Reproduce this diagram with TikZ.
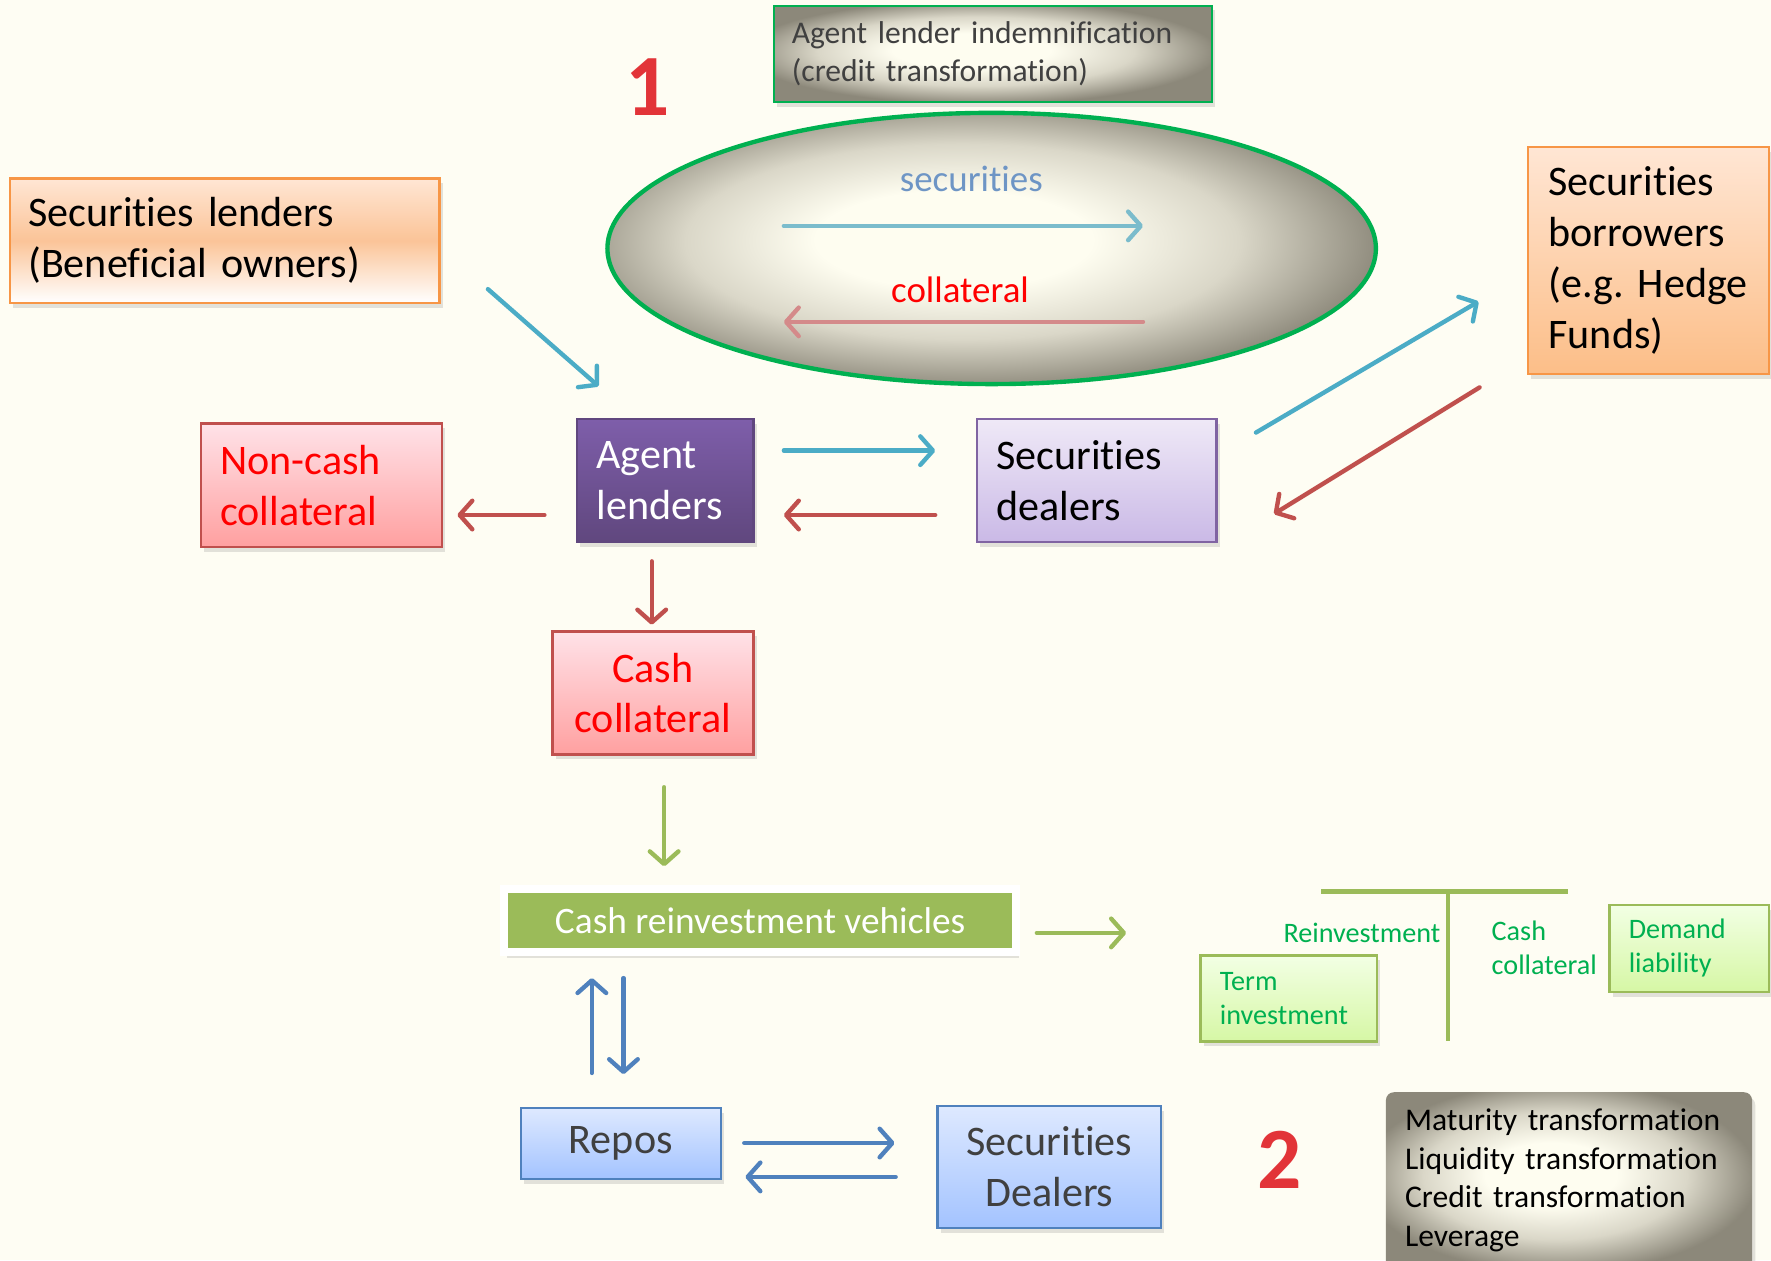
\documentclass[tikz,border=0pt]{standalone}
\usepackage{fontspec}
\setmainfont{Carlito}[Ligatures=NoCommon]
\usetikzlibrary{arrows.meta,shadows,shapes.geometric}
\hyphenpenalty=10000
\exhyphenpenalty=10000

\definecolor{cream}{RGB}{254,253,243}
\definecolor{boxorange}{RGB}{247,150,70}
\definecolor{peachtop}{RGB}{255,230,212}
\definecolor{peachmid}{RGB}{251,196,152}
\definecolor{peachbot}{RGB}{252,190,136}
\definecolor{boxred}{RGB}{192,80,77}
\definecolor{pinktop}{RGB}{255,226,232}
\definecolor{pinkbot}{RGB}{255,160,160}
\definecolor{violettop}{RGB}{126,94,170}
\definecolor{violetbot}{RGB}{96,71,126}
\definecolor{lilacedge}{RGB}{128,100,162}
\definecolor{lilactop}{RGB}{239,233,247}
\definecolor{lilacbot}{RGB}{202,185,230}
\definecolor{skyedge}{RGB}{79,129,189}
\definecolor{skytop}{RGB}{222,233,255}
\definecolor{skybot}{RGB}{163,195,255}
\definecolor{limeedge}{RGB}{155,187,89}
\definecolor{limetop}{RGB}{242,255,228}
\definecolor{limebot}{RGB}{214,247,165}
\definecolor{labelgreen}{RGB}{0,176,80}
\definecolor{darktext}{RGB}{64,64,64}
\definecolor{glowin}{RGB}{254,253,240}
\definecolor{glowmid}{RGB}{218,215,200}
\definecolor{glowout}{RGB}{140,136,122}
\definecolor{arrowblue}{RGB}{75,172,198}
\definecolor{arrowred}{RGB}{192,80,77}
\definecolor{arrowgreen}{RGB}{155,187,89}
\definecolor{arrowsky}{RGB}{79,129,189}
\definecolor{paleblue}{RGB}{123,188,204}
\definecolor{palered}{RGB}{212,138,138}
\definecolor{seclabel}{RGB}{110,149,197}
\definecolor{numred}{RGB}{226,52,56}

\pgfdeclareradialshading{glow}{\pgfpoint{-3bp}{2bp}}{color(0bp)=(glowin); color(9bp)=(glowin); color(18bp)=(glowmid); color(27bp)=(glowout); color(50bp)=(glowout)}

\newcommand{\bigtxt}{\fontsize{10.6}{12.8}\selectfont}
\newcommand{\midtxt}{\fontsize{7.95}{9.7}\selectfont}
\newcommand{\smalltxt}{\fontsize{7.1}{8.5}\selectfont}
\newcommand{\lbltxt}{\fontsize{9.3}{10}\selectfont}
\newcommand{\crvtxt}{\fontsize{9.4}{11}\selectfont}
\newcommand{\numtxt}{\fontsize{22}{22}\selectfont\bfseries}

\begin{document}
\begin{tikzpicture}[
	x=0.01cm, y=-0.01cm,
	box/.style={ draw, line width=0.6pt, anchor=north west, align=left, inner xsep=0.17cm, inner ysep=0pt, drop shadow={opacity=0.22,shadow xshift=0.8pt,shadow yshift=-1.2pt} },
	peachbox/.style={ box, draw=boxorange, font=\bigtxt },
	pinkbox/.style={ box, draw=boxred, top color=pinktop, bottom color=pinkbot, text=red, font=\bigtxt },
	violetbox/.style={ box, draw=violetbot, top color=violettop, bottom color=violetbot, text=white, font=\bigtxt },
	lilacbox/.style={ box, draw=lilacedge, top color=lilactop, bottom color=lilacbot, font=\bigtxt },
	skybox/.style={ box, draw=skyedge, top color=skytop, bottom color=skybot, text=darktext, font=\bigtxt, align=center },
	limebox/.style={ box, draw=limeedge, top color=limetop, bottom color=limebot, text=labelgreen, font=\smalltxt },
	glowbox/.style={ box, shade, shading=glow, font=\midtxt },
	crvbox/.style={ fill=arrowgreen, draw=white, line width=2pt, minimum width=4.53cm, minimum height=0.56cm, text=white, font=\crvtxt, drop shadow={opacity=0.22,shadow xshift=0.8pt,shadow yshift=-1.4pt} },
	flow/.style={ line width=1.1pt, line cap=round, -{Straight Barb[length=3.2pt,width=7.2pt,round]} },
	tbar/.style={ arrowgreen, line width=1.2pt },
	num/.style={ font=\numtxt, text=numred }
]

\useasboundingbox (0,0) rectangle (1568,1116);
\fill[cream] (0,0) rectangle (1568,1116);

\node at (684,4) (indemn) [glowbox, draw=labelgreen, text=darktext, text width=3.56cm, inner xsep=0.16cm, minimum height=0.85cm] {Agent lender indemnification\\(credit transformation)};
\node at (573,77) (one) [num] {1};

\node at (878,220) (loop) [ellipse, draw=labelgreen, line width=1.1pt, shade, shading=glow, minimum width=6.8cm, minimum height=2.4cm] {};
\node at (860,158) (securities) [font=\lbltxt, text=seclabel] {securities};
\node at (850,257) (collateral) [font=\lbltxt, text=red] {collateral};
\coordinate (loopa) at (694,200);
\coordinate (loopb) at (1012,200);
\draw[flow, paleblue] (loopa) -- (loopb);
\coordinate (loopc) at (1012,285);
\coordinate (loopd) at (694,285);
\draw[flow, palered] (loopc) -- (loopd);

\node at (8,157) (lenders) [peachbox, top color=peachtop, bottom color=white, middle color=peachmid, text width=3.48cm, inner xsep=0.16cm, minimum height=1.1cm] {Securities lenders\\(Beneficial owners)};
\node at (1352,129) (borrowers) [peachbox, top color=peachtop, bottom color=peachbot, text width=1.77cm, inner xsep=0.18cm, minimum height=2.01cm] {Securities\\borrowers\\(e.g.~Hedge\\Funds)};
\node at (510,370) (agent) [violetbox, text width=1.22cm, minimum height=1.09cm] {Agent\\lenders};
\node at (177,374) (noncash) [pinkbox, text width=1.79cm, minimum height=1.09cm] {Non-cash\\collateral};
\node at (864,370) (dealers) [lilacbox, text width=1.78cm, minimum height=1.09cm] {Securities\\dealers};
\node at (488,558) (cash) [pinkbox, align=center, text width=1.44cm, minimum height=1.09cm] {Cash\\collateral};

\coordinate (lendout) at (432,256);
\coordinate (agentin) at (530,342);
\draw[flow, arrowblue] (lendout) -- (agentin);
\coordinate (agentw) at (482,456);
\coordinate (noncashe) at (405,456);
\draw[flow, arrowred] (agentw) -- (noncashe);
\coordinate (agente) at (694,399);
\coordinate (dealersw) at (828,399);
\draw[flow, arrowblue] (agente) -- (dealersw);
\coordinate (dealersl) at (828,456);
\coordinate (agentl) at (694,456);
\draw[flow, arrowred] (dealersl) -- (agentl);
\coordinate (dealersne) at (1112,383);
\coordinate (borrowin) at (1309,267);
\draw[flow, arrowblue] (dealersne) -- (borrowin);
\coordinate (borrowout) at (1310,343);
\coordinate (dealerse) at (1128,455);
\draw[flow, arrowred] (borrowout) -- (dealerse);
\coordinate (agents) at (577,497);
\coordinate (cashn) at (577,553);
\draw[flow, arrowred] (agents) -- (cashn);

\node at (673,815) (crv) [crvbox] {Cash reinvestment vehicles};
\coordinate (cashs) at (588,697);
\coordinate (crvn) at (588,767);
\draw[flow, arrowgreen] (cashs) -- (crvn);
\coordinate (crve) at (918,826);
\coordinate (split) at (997,826);
\draw[flow, arrowgreen] (crve) -- (split);

\coordinate (barl) at (1170,789);
\coordinate (barr) at (1388,789);
\coordinate (bart) at (1282,789);
\coordinate (barb) at (1282,922);
\draw[tbar] (barl) -- (barr);
\draw[tbar] (bart) -- (barb);
\node at (1276,826) (reinv) [anchor=east, font=\smalltxt, text=labelgreen, inner sep=0pt] {Reinvestment};
\node at (1320,839) (cashlbl) [anchor=west, align=left, font=\smalltxt, text=labelgreen, inner sep=0pt] {Cash\\collateral};
\node at (1062,845) (term) [limebox, text width=1.22cm, minimum height=0.76cm] {Term\\investment};
\node at (1424,800) (demand) [limebox, text width=1.07cm, minimum height=0.77cm] {Demand\\liability};

\node at (460,980) (repos) [skybox, text width=1.43cm, minimum height=0.63cm] {Repos};
\node at (829,978) (sdealers) [skybox, text width=1.64cm, minimum height=1.08cm] {Securities\\Dealers};
\coordinate (crvup) at (524,866);
\coordinate (reposup) at (524,950);
\draw[flow, arrowsky] (reposup) -- (crvup);
\coordinate (crvdown) at (552,866);
\coordinate (reposdown) at (552,951);
\draw[flow, arrowsky] (crvdown) -- (reposdown);
\coordinate (repose) at (659,1012);
\coordinate (sdealersw) at (792,1012);
\draw[flow, arrowsky] (repose) -- (sdealersw);
\coordinate (sdealersl) at (793,1042);
\coordinate (reposl) at (660,1042);
\draw[flow, arrowsky] (sdealersl) -- (reposl);

\node at (1133,1027) (two) [num] {2};
\node at (1226,966) (maturity) [glowbox, draw=none, rounded corners=2pt, text=black, text width=2.9cm, inner xsep=0.17cm, minimum height=1.56cm] {Maturity transformation\\Liquidity transformation\\Credit transformation\\Leverage};

\end{tikzpicture}
\end{document}
